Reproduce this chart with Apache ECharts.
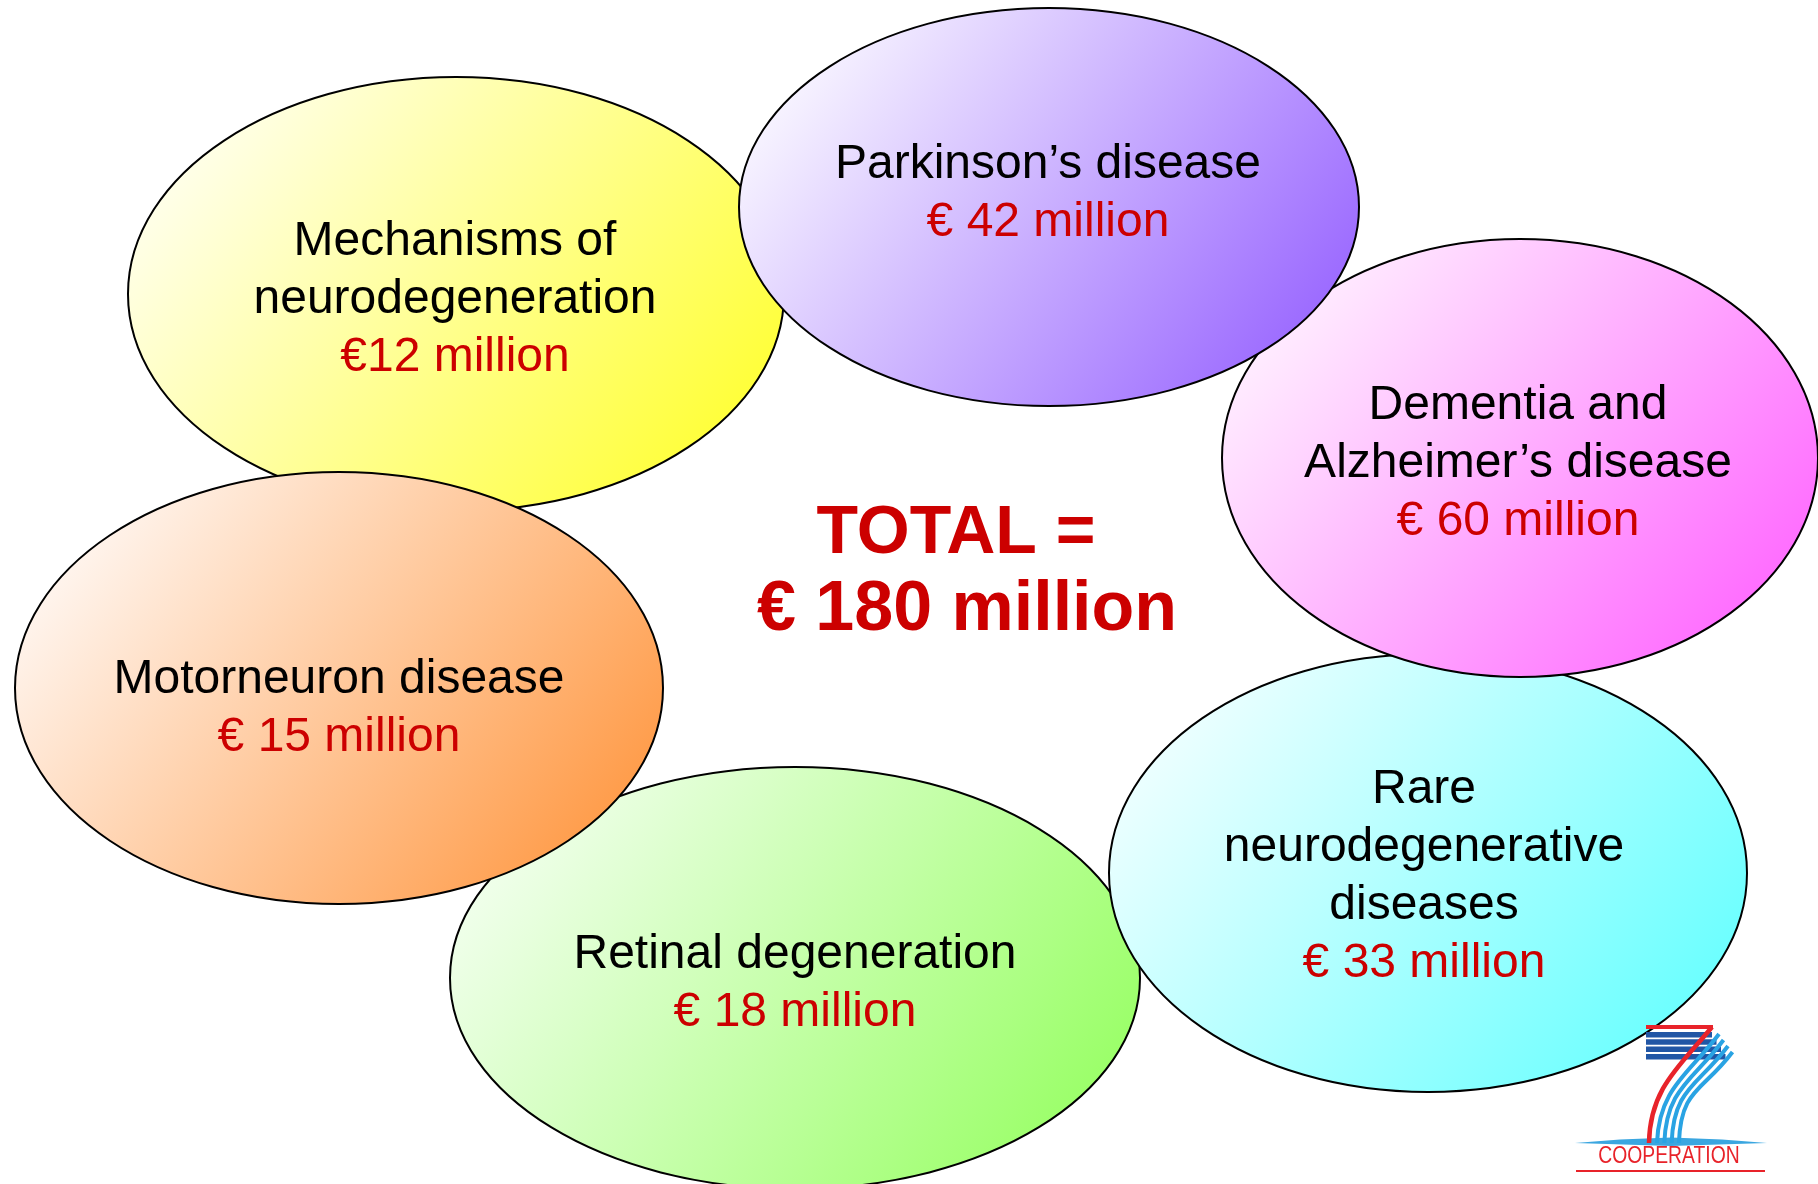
<!DOCTYPE html>
<html>
<head>
<meta charset="utf-8">
<script src="https://cdn.jsdelivr.net/npm/echarts@6/dist/echarts.min.js"></script>
<style>
html,body{margin:0;padding:0;background:#fff;}
#chart{width:1818px;height:1184px;}
</style>
</head>
<body>
<div id="chart"></div>
<script>
// ---- data ----
var topics = ["Mechanisms of\nneurodegeneration", "Retinal degeneration", "Motorneuron disease", "Rare\nneurodegenerative\ndiseases", "Dementia and\nAlzheimer\u2019s disease", "Parkinson\u2019s disease"];
var amounts = [12, 18, 15, 33, 60, 42];
var amountLabels = ["\u20ac12 million", "\u20ac 18 million", "\u20ac 15 million", "\u20ac 33 million", "\u20ac 60 million", "\u20ac 42 million"];
var totalValue = 180;
var totalLabels = ["TOTAL =", "\u20ac " + totalValue + " million"];
var logoText = "COOPERATION";

// ---- layout (drawing order = stacking order) ----
var layout = [
  {cx: 456, cy: 294, rx: 328, ry: 217, tx: 455, ty: 300, light: '#FFFFF0', dark: '#FFFF33'},
  {cx: 795, cy: 978, rx: 345, ry: 211, tx: 795, ty: 984, light: '#F2FFEE', dark: '#99FF66'},
  {cx: 339, cy: 688, rx: 324, ry: 216, tx: 339, ty: 709, light: '#FFF8F4', dark: '#FF9944'},
  {cx: 1428, cy: 873, rx: 319, ry: 219, tx: 1424, ty: 877, light: '#F2FFFF', dark: '#66FFFF'},
  {cx: 1520, cy: 458, rx: 298, ry: 219, tx: 1518, ty: 464, light: '#FFF4FF', dark: '#FF66FF'},
  {cx: 1049, cy: 207, rx: 310, ry: 199, tx: 1048, ty: 194, light: '#FAF8FF', dark: '#9966FF'}
];

var elements = [];
layout.forEach(function (L, i) {
  elements.push({
    type: 'ellipse',
    shape: {cx: L.cx, cy: L.cy, rx: L.rx, ry: L.ry},
    style: {
      fill: new echarts.graphic.LinearGradient(0.12, 0.05, 0.88, 0.95, [
        {offset: 0, color: L.light},
        {offset: 1, color: L.dark}
      ]),
      stroke: '#000', lineWidth: 2
    },
    z: 10 + i * 2
  });
  elements.push({
    type: 'text',
    x: L.tx, y: L.ty,
    style: {
      text: '{n|' + topics[i].split('\n').join('}\n{n|') + '}\n{v|' + amountLabels[i] + '}',
      align: 'center', verticalAlign: 'middle',
      rich: {
        n: {fontFamily: 'Liberation Sans, Arial, sans-serif', fontSize: 48, lineHeight: 58, fill: '#000', align: 'center'},
        v: {fontFamily: 'Liberation Sans, Arial, sans-serif', fontSize: 48, lineHeight: 58, fill: '#CC0000', align: 'center'}
      }
    },
    z: 11 + i * 2
  });
});

// total
elements.push({
  type: 'text', x: 956, y: 534,
  style: {
    text: totalLabels[0], align: 'center', verticalAlign: 'middle',
    fontFamily: 'Liberation Sans, Arial, sans-serif', fontWeight: 'bold',
    fontSize: 68, fill: '#CC0000'
  },
  z: 50
});
elements.push({
  type: 'text', x: 967, y: 611,
  style: {
    text: totalLabels[1], align: 'center', verticalAlign: 'middle',
    fontFamily: 'Liberation Sans, Arial, sans-serif', fontWeight: 'bold',
    fontSize: 70, fill: '#CC0000'
  },
  z: 50
});

// logo (FP7 cooperation)
var logo = [];
logo.push({type: 'polygon', shape: {points: [[1575,1143],[1620,1139.5],[1671,1137.5],[1722,1139.5],[1767,1143],[1671,1146]]}, style: {fill: '#3AA6E0'}, z: 60});
for (var b = 0; b < 4; b++) {
  logo.push({type: 'rect', shape: {x: 1646, y: 1032 + b * 7.3, width: 66 + b * 4.5, height: 5.5}, style: {fill: '#2156A5'}, z: 61});
}
logo.push({type: 'rect', shape: {x: 1646, y: 1025, width: 67, height: 4}, style: {fill: '#E8232A'}, z: 62});
for (var s = 0; s < 4; s++) {
  var sx = 1719 + s * 4.5, sy = 1034 + s * 6;
  var ex = 1657 + s * 7.3, ey = 1143;
  logo.push({type: 'bezierCurve', shape: {x1: sx, y1: sy, cpx1: sx - 30, cpy1: sy + 40, cpx2: ex + 2, cpy2: ey - 55, x2: ex, y2: ey}, style: {stroke: '#29A3E3', lineWidth: 4, fill: null}, z: 63});
}
logo.push({type: 'bezierCurve', shape: {x1: 1712, y1: 1027, cpx1: 1680, cpy1: 1066, cpx2: 1650, cpy2: 1088, x2: 1649, y2: 1143}, style: {stroke: '#E8232A', lineWidth: 4.5, fill: null}, z: 64});
logo.push({type: 'text', x: 1669, y: 1157, scaleX: 0.84, style: {text: logoText, align: 'center', verticalAlign: 'middle', fontFamily: 'Liberation Sans, Arial, sans-serif', fontSize: 23, fill: '#E8232A'}, z: 65});
logo.push({type: 'rect', shape: {x: 1576, y: 1170, width: 189, height: 2}, style: {fill: '#E8232A'}, z: 65});
elements = elements.concat(logo);

var chart = echarts.init(document.getElementById('chart'), null, {renderer: 'canvas'});
chart.setOption({
  backgroundColor: '#ffffff',
  animation: false,
  graphic: {elements: elements}
});
</script>
</body>
</html>
